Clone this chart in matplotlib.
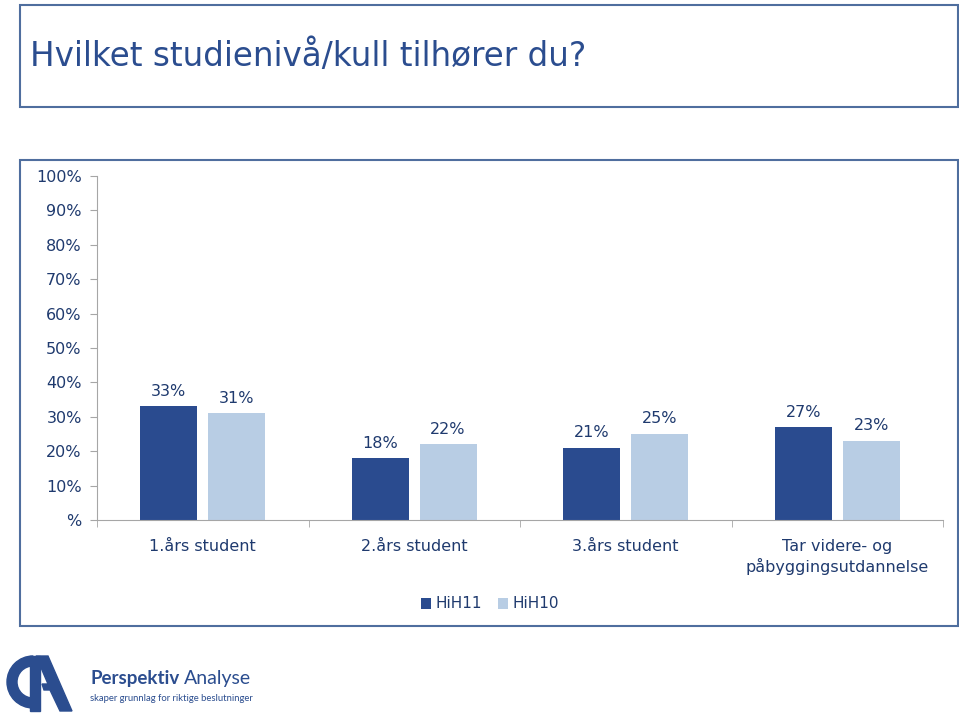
import matplotlib
matplotlib.use('Agg')
import matplotlib.pyplot as plt
from matplotlib.patches import Rectangle, Wedge, Polygon
import numpy as np

plt.rcParams['font.family'] = ['DejaVu Sans']

# data
categories = ['1.års student', '2.års student', '3.års student', 'Tar videre- og\npåbyggingsutdannelse']
hih11 = [33, 18, 21, 27]
hih10 = [31, 22, 25, 23]
series_names = ['HiH11', 'HiH10']
ytick_vals = [0, 10, 20, 30, 40, 50, 60, 70, 80, 90, 100]
ytick_labels = ['%'] + ['%d%%' % v for v in ytick_vals[1:]]
title = 'Hvilket studienivå/kull tilhører du?'

dark = '#2A4B8F'
light = '#B8CDE4'
txt = '#1F3A6E'
frame = '#4F6E9E'
axcol = '#A6A6A6'

W, H = 959, 717
fig = plt.figure(figsize=(W / 100, H / 100), dpi=100)

def px(x0, y0, x1, y1):
    # pixel box (top-left origin) -> figure fraction rect
    return [x0 / W, 1 - y1 / H, (x1 - x0) / W, (y1 - y0) / H]

# title box and chart box
for (x0, y0, x1, y1) in [(20, 5, 958, 107), (20, 160, 958, 626)]:
    r = px(x0, y0, x1, y1)
    fig.patches.append(Rectangle((r[0], r[1]), r[2], r[3], transform=fig.transFigure,
                                 fill=False, edgecolor=frame, linewidth=1.5))
fig.text(30 / W, 1 - 56 / H, title, fontsize=23.5, color='#2B4D8F', va='center', ha='left')

ax = fig.add_axes(px(97, 176, 943, 520))
x = np.arange(len(categories))
bw = 0.27
off = 0.16
b1 = ax.bar(x - off, hih11, bw, color=dark, label=series_names[0])
b2 = ax.bar(x + off, hih10, bw, color=light, label=series_names[1])
for bars, vals in [(b1, hih11), (b2, hih10)]:
    for b, v in zip(bars, vals):
        ax.text(b.get_x() + b.get_width() / 2, v + 2.2, '%d%%' % v, ha='center', va='bottom',
                fontsize=11.5, color=txt)

ax.set_xlim(-0.5, len(categories) - 0.5)
ax.set_ylim(0, 100)
ax.set_yticks(ytick_vals)
ax.set_yticklabels(ytick_labels, fontsize=11.5, color=txt)
ax.set_xticks(x)
ax.set_xticklabels(categories, fontsize=11.5, color=txt, linespacing=1.25)
ax.tick_params(axis='x', which='major', length=0, pad=14)
ax.set_xticks(np.arange(-0.5, len(categories), 1.0), minor=True)
ax.tick_params(axis='x', which='minor', length=5, color=axcol, direction='out')
ax.tick_params(axis='y', length=5, color=axcol, pad=6)
for s in ['top', 'right']:
    ax.spines[s].set_visible(False)
ax.spines['left'].set_color(axcol)
ax.spines['bottom'].set_color(axcol)
ax.patch.set_alpha(0)

leg = fig.legend(handles=[b1, b2], loc='center', bbox_to_anchor=(490 / W, 1 - 604 / H), ncol=2,
                 frameon=False, fontsize=11, handlelength=0.7, handleheight=0.7,
                 handletextpad=0.3, columnspacing=1.0)
for t in leg.get_texts():
    t.set_color(txt)

# logo
lax = fig.add_axes(px(0, 650, 300, 717))
lax.set_xlim(0, 300)
lax.set_ylim(717, 650)
lax.axis('off')
lax.add_patch(Wedge((33, 682), 26, 90, 270, width=10, color='#2B4D8F'))
lax.add_patch(Rectangle((30, 656), 10, 55, color='#2B4D8F'))
lax.add_patch(Polygon([(36, 656), (48, 656), (72, 711), (60, 711), (50, 690), (44, 690), (42, 684), (48, 684), (42, 670)],
                      closed=True, color='#2B4D8F'))
lax.text(90, 684, 'Perspektiv', fontsize=13.5, fontweight='bold', color='#2B4D8F', va='baseline',
         family='Lato')
lax.text(184, 684, 'Analyse', fontsize=14, color='#2B4D8F', va='baseline', family='Lato')
lax.text(90, 701, 'skaper grunnlag for riktige beslutninger', fontsize=6.8, color='#2B4D8F',
         va='baseline', family='Lato')

fig.savefig('out.png', dpi=100)
